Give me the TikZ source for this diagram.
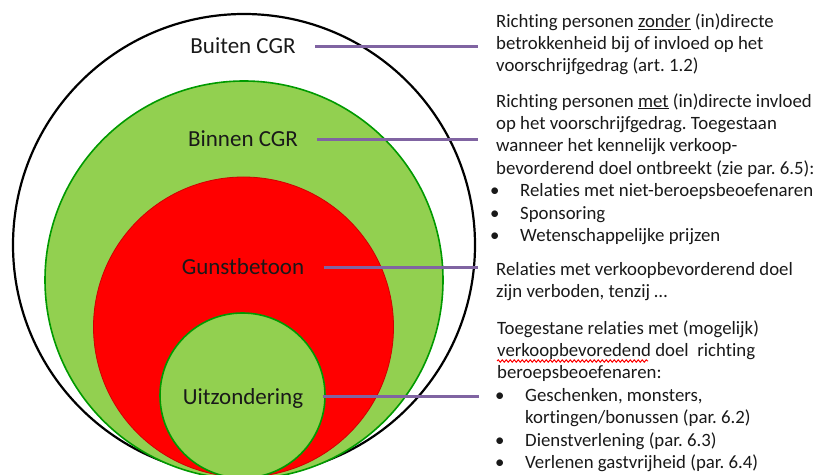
\documentclass[tikz,border=0pt]{standalone}
\usepackage{fontspec}
\setmainfont{Carlito}[Ligatures=NoCommon]
\usepackage{xcolor}
\usetikzlibrary{positioning,decorations.pathmorphing}
\definecolor{zonegreen}{HTML}{92D050}
\definecolor{rimgreen}{HTML}{009A00}
\definecolor{rimred}{HTML}{D00000}
\definecolor{linkpurple}{HTML}{8064A2}
\frenchspacing
\newcommand{\notefont}{\fontsize{18.8bp}{22.4bp}\selectfont}
\newcommand{\itm}[1][0bp]{\hspace*{#1}\makebox[24bp][l]{\hspace*{-6bp}\textbullet}}
\tikzset{%
	zone/.style     = {line width=1.6bp}, % circle
	zonetext/.style = {anchor=base, text height=15bp, text depth=0bp, font=\fontsize{23bp}{27bp}\selectfont, text=black!90},
	note/.style     = {anchor=base west, align=left, inner sep=0pt, font=\notefont, text=black!90}, % placed at last baseline
	link/.style     = {line width=2.4bp, draw=linkpurple, shorten <=16bp, shorten >=18bp},
	spell/.style    = {draw=red, line width=1bp, decorate, decoration={snake, amplitude=1.2bp, segment length=4bp}},
}

\begin{document}
\begin{tikzpicture}[x=1bp,y=-1bp]
	\useasboundingbox (0,0) rectangle (814,475);
	% circles
	\draw[line width=2.2bp] (244,245) circle (231);
	\filldraw[zone, fill=zonegreen, draw=rimgreen] (244,280) circle (199);
	\filldraw[line width=0.8bp, fill=red, draw=rimred] (243.5,327) circle (150);
	\filldraw[zone, fill=zonegreen, draw=rimgreen] (242.5,395.5) circle (82.5);
	% labels
	\node[zonetext] (buiten) at (243,54) {Buiten CGR};
	\node[zonetext] (binnen) at (243,147) {Binnen CGR};
	\node[zonetext] (gunst) at (243,275) {Gunstbetoon};
	\node[zonetext] (uitz) at (243,404) {Uitzondering};
	% notes
	\node[note] (txtBuiten) at (496,72) {Richting personen \underline{zonder} (in)directe\\
		betrokkenheid bij of invloed op het\\
		voorschrijfgedrag (art. 1.2)};
	\node[note] (txtBinnen) at (496,241.5) {Richting personen \underline{met} (in)directe invloed\\
		op het voorschrijfgedrag. Toegestaan\\
		wanneer het kennelijk verkoop-\\
		bevorderend doel ontbreekt (zie par. 6.5):\\
		\itm Relaties met niet-beroepsbeoefenaren\\
		\itm Sponsoring\\
		\itm Wetenschappelijke prijzen};
	\node[note] (txtGunst) at (496,298) {Relaties met verkoopbevorderend doel\\
		zijn verboden, tenzij \dots};
	\node[note] (txtUitz) at (497,468.5) {Toegestane relaties met (mogelijk)\\
		verkoopbevoredend doel\ \ richting\\
		beroepsbeoefenaren:\\
		\itm[4bp]Geschenken, monsters,\\
		\hspace*{28bp}kortingen/bonussen (par. 6.2)\\
		\itm[4bp]Dienstverlening (par. 6.3)\\
		\itm[4bp]Verlenen gastvrijheid (par. 6.4)};
	% red spelling wave under 'verkoopbevoredend'
	\draw[spell] (497,361) -- (648,361);
	% connectors
	\draw[link] (buiten.east) -- (buiten.east -| txtBuiten.west);
	\draw[link] (binnen.east) -- (binnen.east -| txtBinnen.west);
	\draw[link] (gunst.east) -- (gunst.east -| txtGunst.west);
	\draw[link] (uitz.east) -- (uitz.east -| txtUitz.west);
\end{tikzpicture}
\end{document}
